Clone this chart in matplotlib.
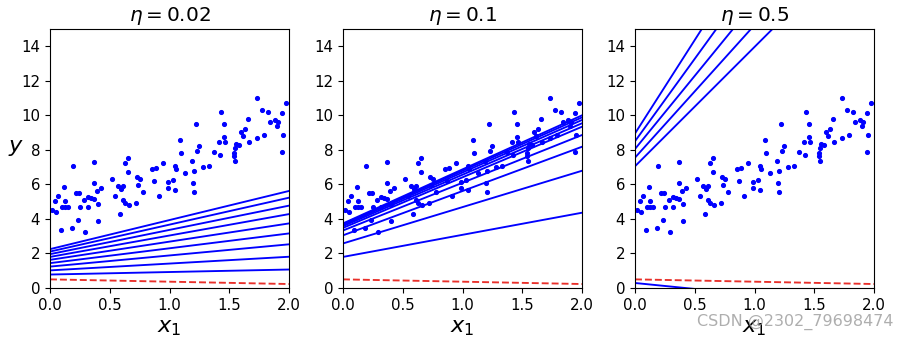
import matplotlib
matplotlib.use("Agg")
import matplotlib.pyplot as plt

# ---- data ----
X = [0.195, 0.371, 0.12, 0.07, 0.045, 0.128, 0.017, 0.053, 0.098, 0.129, 0.151, 0.218, 0.24, 0.282,
     0.318, 0.34, 0.365, 0.371, 0.393, 0.427, 0.402, 0.251, 0.318, 0.234, 0.402, 0.089, 0.181, 0.29,
     0.65, 0.628, 0.65, 0.521, 0.572, 0.611, 0.591, 0.547, 0.725, 0.75, 0.734, 0.778, 0.856, 0.887,
     0.946, 0.873, 0.987, 0.987, 0.915, 0.614, 0.63, 0.664, 0.72, 0.583,
     1.219, 1.431, 1.459, 1.09, 1.096, 1.459, 1.467, 1.414, 1.25, 1.23, 1.37, 1.423, 1.188, 1.049,
     1.054, 1.127, 1.205, 1.278, 1.331, 1.029, 1.043, 1.194, 1.205,
     1.732, 1.975, 1.777, 1.821, 1.944, 1.844, 1.883, 1.905, 1.9, 1.657, 1.635, 1.601, 1.618, 1.665,
     1.732, 1.793, 1.947, 1.556, 1.579, 1.545, 1.54, 1.54, 1.551, 1.939]
Y = [7.06, 7.31, 5.85, 5.33, 5.02, 5.02, 4.52, 4.42, 4.69, 4.69, 4.69, 5.48, 5.52, 5.11,
     5.27, 5.21, 5.15, 6.06, 5.64, 5.81, 4.86, 4.71, 4.71, 3.96, 3.86, 3.34, 3.49, 3.24,
     7.55, 7.26, 6.74, 6.33, 5.91, 5.91, 5.71, 5.33, 6.43, 6.31, 5.96, 5.54, 6.89, 6.97,
     7.26, 6.21, 6.16, 5.81, 5.33, 5.11, 4.9, 4.81, 4.92, 4.28,
     9.51, 10.21, 9.51, 8.59, 7.84, 8.72, 8.47, 8.45, 8.2, 7.95, 7.87, 7.72, 7.37, 7.06,
     6.87, 6.64, 6.77, 7.03, 7.06, 6.27, 5.67, 6.06, 5.58,
     11.02, 10.73, 10.31, 10.19, 10.15, 9.63, 9.75, 9.59, 9.4, 9.79, 9.21, 9.01, 8.82, 8.47,
     8.67, 8.88, 8.84, 8.32, 8.28, 8.09, 7.84, 7.66, 7.37, 7.89]

X_new = [0.0, 2.0]
etas = ["0.02", "0.1", "0.5"]

# initial prediction line (red dashed), value at x=0 and x=2
init_y0 = 0.50
init_y2 = 0.23

# blue prediction lines: value at x=0 and at x=2, for each learning rate
eta002_y0 = [0.78, 1.02, 1.24, 1.44, 1.63, 1.80, 1.96, 2.11, 2.25]
eta002_y2 = [1.07, 1.81, 2.53, 3.16, 3.74, 4.28, 4.77, 5.23, 5.62]
eta01_y0 = [1.80, 2.58, 3.05, 3.33, 3.48, 3.58, 3.65, 3.70, 3.74]
eta01_y2 = [4.36, 6.79, 8.18, 8.86, 9.34, 9.54, 9.73, 9.88, 10.00]
eta05_y0 = [7.05, 0.29, 7.55, -0.7, 8.05, -1.9, 8.5, -3.4, 8.95]
eta05_y2 = [20.87, -1.09, 22.9, -6.5, 25.0, -13.1, 27.6, -21.4, 30.6]

lines_y0 = [eta002_y0, eta01_y0, eta05_y0]
lines_y2 = [eta002_y2, eta01_y2, eta05_y2]

xticks = [0.0, 0.5, 1.0, 1.5, 2.0]
yticks = [0, 2, 4, 6, 8, 10, 12, 14]

# ---- figure ----
fig = plt.figure(figsize=(9, 3.4), dpi=100)
lefts = [50 / 900, 343 / 900, 635 / 900]
w = 239 / 900
bottom = 1 - 288 / 340
h = (288 - 29) / 340

for i, eta in enumerate(etas):
    ax = fig.add_axes([lefts[i], bottom, w, h])
    ax.plot(X, Y, "b.", ms=5.4)
    ax.plot(X_new, [init_y0, init_y2], "--", color="#e8302a", lw=1.35)
    for a, b in zip(lines_y0[i], lines_y2[i]):
        ax.plot(X_new, [a, b], "-", color="b", lw=1.35)
    ax.set_xlim(0, 2)
    ax.set_ylim(0, 15)
    ax.set_xticks(xticks)
    ax.set_xticklabels([f"{t:.1f}" for t in xticks])
    ax.set_yticks(yticks)
    ax.tick_params(labelsize=10.8)
    ax.set_xlabel("$x_1$", fontsize=16.2)
    ax.set_title(r"$\eta = {}$".format(eta), fontsize=14.4)
    if i == 0:
        ax.set_ylabel("$y$", rotation=0, fontsize=16.2)

fig.text(0.993, 0.03, "CSDN @2302_79698474", ha="right", va="bottom",
         fontsize=11.5, color="#9a9a9a", alpha=0.8)

fig.savefig("out.png", dpi=100)
